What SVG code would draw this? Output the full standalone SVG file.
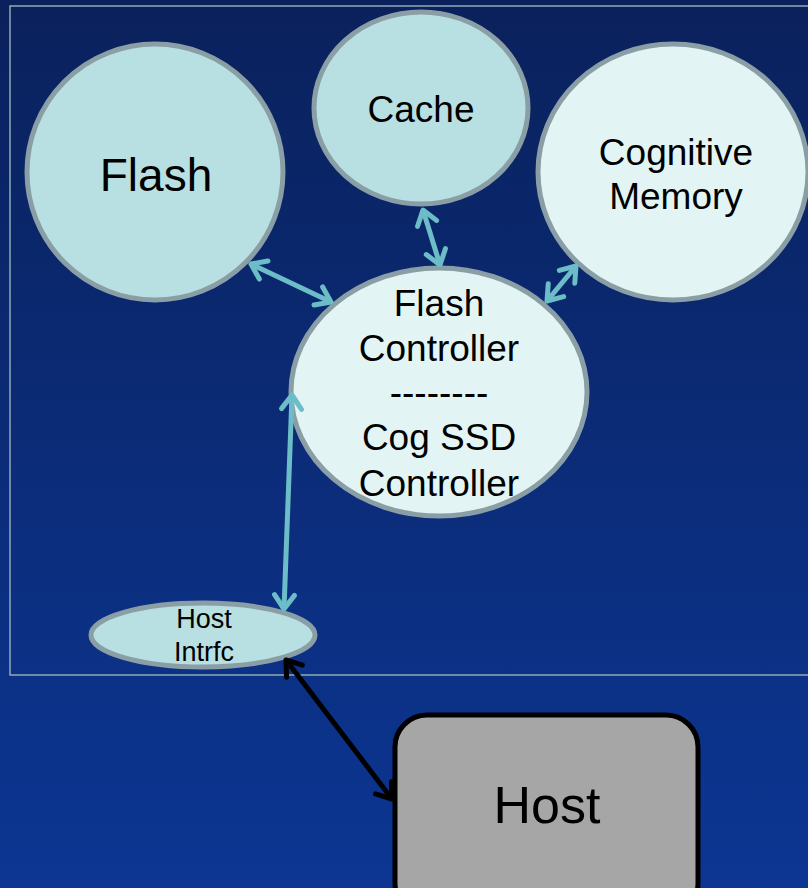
<svg xmlns="http://www.w3.org/2000/svg" width="808" height="888" viewBox="0 0 808 888">
<defs>
<linearGradient id="bg" x1="0" y1="0" x2="0" y2="1">
<stop offset="0" stop-color="#0a215c"/>
<stop offset="1" stop-color="#0c3693"/>
</linearGradient>
<marker id="ta" viewBox="-20 -14 24 28" markerWidth="24" markerHeight="28" refX="0" refY="0" orient="auto-start-reverse" markerUnits="userSpaceOnUse">
<path d="M-14,-10 L0,0 L-14,10" fill="none" stroke="#6cbdc7" stroke-width="5" stroke-linecap="round" stroke-linejoin="round"/>
</marker>
<marker id="ka" viewBox="-20 -14 24 28" markerWidth="24" markerHeight="28" refX="0" refY="0" orient="auto-start-reverse" markerUnits="userSpaceOnUse">
<path d="M-14,-10 L0,0 L-14,10" fill="none" stroke="#000" stroke-width="5" stroke-linecap="round" stroke-linejoin="round"/>
</marker>
</defs>
<style>
.t{font-family:"Liberation Sans",Arial,sans-serif;fill:#000;text-anchor:middle}
.e{stroke:#8a9ea5;stroke-width:5}
.l{fill:#b8dfe2}
.w{fill:#e3f4f4}
.c{fill:none;stroke:#6cbdc7;stroke-width:5;marker-start:url(#ta);marker-end:url(#ta)}
</style>
<rect width="808" height="888" fill="url(#bg)"/>
<rect x="10" y="6" width="810" height="669" fill="none" stroke="#8fa9b6" stroke-width="1.5"/>
<g id="flash">
<ellipse class="e l" cx="155" cy="172" rx="128" ry="128"/>
<text class="t" x="156" y="191" font-size="46">Flash</text>
</g>
<g id="cache">
<ellipse class="e l" cx="421" cy="108" rx="107" ry="96"/>
<text class="t" x="421" y="122" font-size="37">Cache</text>
</g>
<g id="cognitive-memory">
<ellipse class="e w" cx="673" cy="172" rx="135" ry="128"/>
<text class="t" x="676" y="165" font-size="37">Cognitive</text>
<text class="t" x="676" y="209" font-size="37">Memory</text>
</g>
<g id="flash-controller">
<ellipse class="e w" cx="439" cy="392" rx="148" ry="124"/>
<text class="t" x="439" y="316" font-size="37">Flash</text>
<text class="t" x="439" y="361" font-size="37">Controller</text>
<text class="t" x="439" y="405" font-size="37">--------</text>
<text class="t" x="439" y="450" font-size="37">Cog SSD</text>
<text class="t" x="439" y="496" font-size="37">Controller</text>
</g>
<g id="host-intrfc">
<ellipse class="e l" cx="203" cy="635" rx="112" ry="32"/>
<text class="t" x="204" y="628" font-size="27">Host</text>
<text class="t" x="204" y="661" font-size="27">Intrfc</text>
</g>
<g id="host">
<rect x="395" y="715" width="303" height="200" rx="32" fill="#a6a6a6" stroke="#000" stroke-width="5"/>
<text class="t" x="547" y="823" font-size="52">Host</text>
</g>
<g id="connectors">
<line class="c" x1="251" y1="264" x2="331" y2="302"/>
<line class="c" x1="423" y1="210" x2="440" y2="265"/>
<line class="c" x1="576" y1="266" x2="547" y2="301"/>
<line class="c" x1="284" y1="609" x2="292" y2="395"/>
<line x1="286" y1="660" x2="392" y2="799" stroke="#000" stroke-width="5" marker-start="url(#ka)" marker-end="url(#ka)"/>
</g>
</svg>
